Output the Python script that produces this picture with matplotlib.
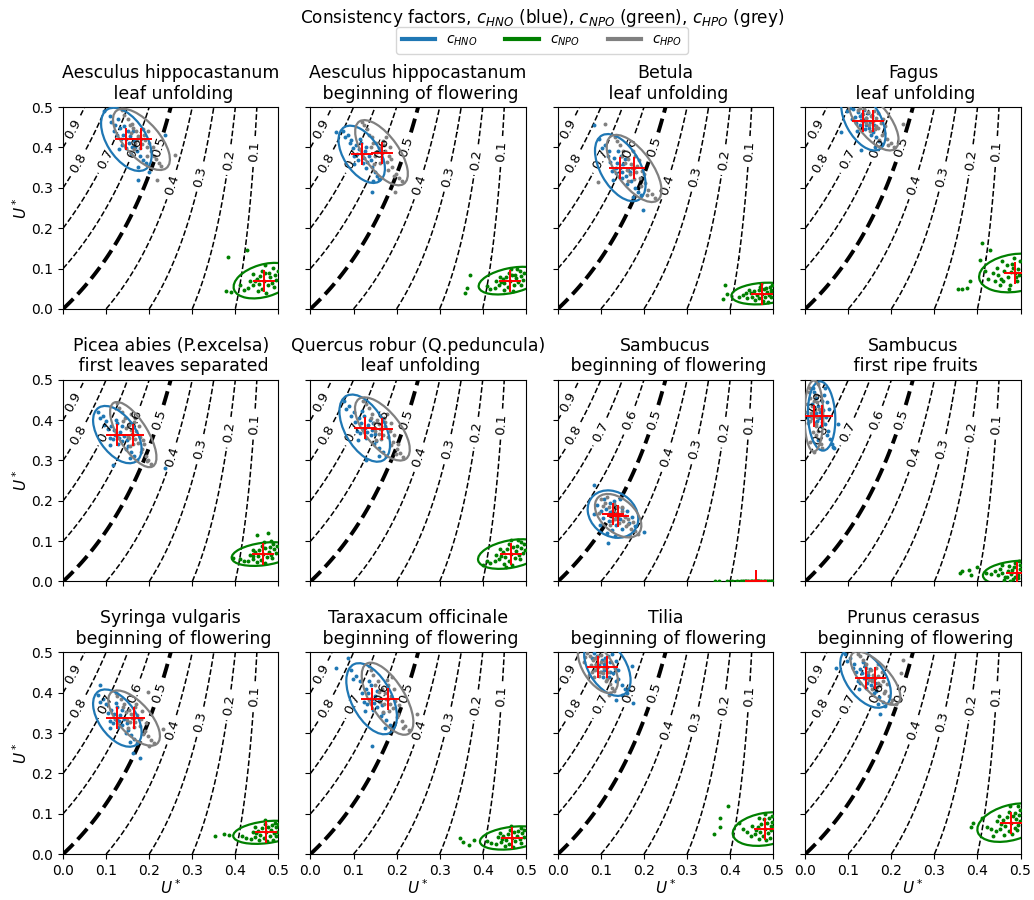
import numpy as np
import matplotlib
matplotlib.use("Agg")
import matplotlib.pyplot as plt
from matplotlib.patches import Ellipse
from matplotlib.lines import Line2D

# Panels (species, phenological phase)
species = ["Aesculus hippocastanum", "Aesculus hippocastanum", "Betula", "Fagus",
           "Picea abies (P.excelsa)", "Quercus robur (Q.peduncula)", "Sambucus", "Sambucus",
           "Syringa vulgaris", "Taraxacum officinale", "Tilia", "Prunus cerasus"]
phases = ["leaf unfolding", "beginning of flowering", "leaf unfolding", "leaf unfolding",
          "first leaves separated", "leaf unfolding", "beginning of flowering", "first ripe fruits",
          "beginning of flowering", "beginning of flowering", "beginning of flowering",
          "beginning of flowering"]

# posterior means (x, y) of each consistency factor cloud
hno_mean = [(0.147, 0.420), (0.119, 0.383), (0.145, 0.350), (0.135, 0.466), (0.126, 0.364), (0.126, 0.380),
            (0.128, 0.167), (0.038, 0.410), (0.126, 0.337), (0.142, 0.385), (0.115, 0.463), (0.140, 0.436)]
hpo_mean = [(0.182, 0.420), (0.165, 0.387), (0.177, 0.348), (0.158, 0.466), (0.163, 0.364), (0.167, 0.378),
            (0.140, 0.163), (0.020, 0.410), (0.165, 0.337), (0.179, 0.385), (0.093, 0.463), (0.163, 0.436)]
npo_mean = [(0.467, 0.070), (0.464, 0.070), (0.474, 0.038), (0.487, 0.089), (0.465, 0.068), (0.465, 0.068),
            (0.460, 0.000), (0.491, 0.021), (0.471, 0.054), (0.467, 0.040), (0.482, 0.062), (0.478, 0.078)]

# standard deviations (x, y) and correlation
hno_sd = [(0.024, 0.032), (0.022, 0.029), (0.024, 0.034), (0.021, 0.030), (0.023, 0.029), (0.024, 0.034),
          (0.024, 0.024), (0.013, 0.035), (0.023, 0.029), (0.024, 0.036), (0.022, 0.029), (0.024, 0.030)]
hpo_sd = [(0.027, 0.031), (0.025, 0.033), (0.026, 0.034), (0.024, 0.030), (0.022, 0.033), (0.026, 0.032),
          (0.022, 0.022), (0.009, 0.036), (0.0245, 0.028), (0.0245, 0.0365), (0.019, 0.026), (0.0237, 0.027)]
npo_sd = [(0.029, 0.018), (0.030, 0.014), (0.029, 0.011), (0.034, 0.0196), (0.030, 0.012), (0.031, 0.015),
          (0.028, 0.0006), (0.032, 0.0125), (0.031, 0.0117), (0.030, 0.0118), (0.031, 0.017), (0.032, 0.0195)]
hno_rho = [-0.5, -0.5, -0.5, -0.5, -0.5, -0.5, -0.2, -0.1, -0.5, -0.5, -0.45, -0.5]
hpo_rho = [-0.65, -0.65, -0.65, -0.65, -0.7, -0.65, -0.45, 0.0, -0.65, -0.65, -0.55, -0.7]
npo_rho = [0.35, 0.4, 0.2, 0.2, 0.3, 0.35, 0.0, 0.2, 0.3, 0.3, 0.25, 0.35]

# posterior samples
hno_pts = [
    [(0.147,0.420),(0.132,0.447),(0.160,0.402),(0.121,0.455),(0.171,0.392),(0.140,0.432),(0.155,0.428),(0.138,0.405),
     (0.165,0.415),(0.128,0.470),(0.178,0.378),(0.112,0.462),(0.150,0.440),(0.145,0.398),(0.186,0.370),(0.118,0.440),
     (0.158,0.385),(0.135,0.420),(0.125,0.432),(0.168,0.402),(0.108,0.478),(0.192,0.362),(0.142,0.452),(0.153,0.410),
     (0.130,0.395),(0.162,0.440),(0.174,0.352),(0.200,0.338),(0.095,0.490),(0.236,0.430),(0.174,0.320)],
    [(0.119,0.383),(0.105,0.405),(0.132,0.365),(0.095,0.418),(0.142,0.352),(0.112,0.395),(0.126,0.390),(0.110,0.370),
     (0.135,0.378),(0.088,0.430),(0.150,0.340),(0.080,0.425),(0.118,0.410),(0.122,0.362),(0.155,0.330),(0.098,0.398),
     (0.130,0.350),(0.108,0.385),(0.100,0.378),(0.140,0.370),(0.075,0.442),(0.160,0.322),(0.115,0.420),(0.124,0.375),
     (0.102,0.358),(0.128,0.402),(0.145,0.318),(0.142,0.290),(0.060,0.439),(0.092,0.410)],
    [(0.145,0.350),(0.130,0.375),(0.158,0.330),(0.118,0.390),(0.170,0.318),(0.138,0.362),(0.152,0.358),(0.136,0.336),
     (0.162,0.345),(0.110,0.405),(0.178,0.300),(0.102,0.398),(0.146,0.380),(0.148,0.325),(0.185,0.290),(0.122,0.365),
     (0.160,0.310),(0.135,0.350),(0.126,0.342),(0.168,0.338),(0.096,0.420),(0.192,0.282),(0.140,0.392),(0.150,0.340),
     (0.128,0.320),(0.155,0.372),(0.175,0.278),(0.198,0.245),(0.085,0.455),(0.116,0.378)],
    [(0.135,0.466),(0.122,0.488),(0.148,0.448),(0.112,0.495),(0.158,0.438),(0.128,0.478),(0.142,0.472),(0.126,0.455),
     (0.150,0.462),(0.105,0.498),(0.165,0.425),(0.098,0.490),(0.136,0.492),(0.138,0.445),(0.172,0.415),(0.115,0.475),
     (0.152,0.432),(0.130,0.468),(0.118,0.460),(0.160,0.455),(0.145,0.485),(0.178,0.408),(0.132,0.482),(0.140,0.455),
     (0.120,0.440),(0.155,0.478),(0.162,0.402),(0.129,0.393),(0.084,0.439),(0.108,0.470)],
    [(0.126,0.364),(0.112,0.385),(0.138,0.348),(0.100,0.398),(0.150,0.335),(0.118,0.375),(0.132,0.370),(0.116,0.352),
     (0.142,0.360),(0.092,0.410),(0.158,0.322),(0.085,0.405),(0.125,0.392),(0.128,0.340),(0.165,0.312),(0.104,0.378),
     (0.146,0.328),(0.120,0.362),(0.108,0.356),(0.148,0.350),(0.080,0.420),(0.172,0.302),(0.122,0.400),(0.130,0.355),
     (0.110,0.338),(0.136,0.385),(0.155,0.305),(0.116,0.288),(0.236,0.282),(0.095,0.388)],
    [(0.126,0.380),(0.112,0.405),(0.140,0.362),(0.100,0.420),(0.152,0.348),(0.118,0.392),(0.134,0.388),(0.116,0.368),
     (0.144,0.375),(0.090,0.435),(0.160,0.332),(0.082,0.428),(0.124,0.410),(0.130,0.355),(0.168,0.320),(0.104,0.395),
     (0.148,0.340),(0.122,0.378),(0.108,0.372),(0.150,0.365),(0.078,0.448),(0.175,0.310),(0.120,0.422),(0.132,0.370),
     (0.110,0.350),(0.138,0.400),(0.158,0.312),(0.128,0.300),(0.095,0.410),(0.145,0.392)],
    [(0.128,0.167),(0.112,0.180),(0.144,0.155),(0.100,0.175),(0.155,0.162),(0.120,0.195),(0.135,0.140),(0.105,0.158),
     (0.150,0.182),(0.092,0.190),(0.165,0.145),(0.118,0.150),(0.138,0.185),(0.125,0.128),(0.172,0.160),(0.098,0.140),
     (0.148,0.130),(0.130,0.200),(0.108,0.205),(0.160,0.175),(0.085,0.168),(0.178,0.138),(0.122,0.172),(0.140,0.168),
     (0.115,0.120),(0.145,0.205),(0.085,0.239),(0.116,0.095),(0.200,0.123),(0.132,0.112)],
    [(0.038,0.410),(0.030,0.435),(0.046,0.390),(0.024,0.455),(0.052,0.372),(0.034,0.420),(0.042,0.425),(0.028,0.398),
     (0.048,0.408),(0.020,0.470),(0.058,0.352),(0.016,0.440),(0.040,0.448),(0.036,0.385),(0.062,0.340),(0.026,0.418),
     (0.050,0.362),(0.032,0.405),(0.022,0.392),(0.054,0.428),(0.018,0.480),(0.066,0.330),(0.044,0.462),(0.040,0.395),
     (0.030,0.350),(0.050,0.445),(0.076,0.391),(0.064,0.333),(0.012,0.410),(0.045,0.480)],
    [(0.126,0.337),(0.112,0.358),(0.138,0.320),(0.100,0.372),(0.150,0.308),(0.118,0.348),(0.132,0.345),(0.116,0.325),
     (0.142,0.335),(0.092,0.385),(0.158,0.295),(0.085,0.378),(0.125,0.365),(0.128,0.315),(0.165,0.285),(0.104,0.350),
     (0.146,0.300),(0.120,0.335),(0.108,0.330),(0.148,0.325),(0.080,0.395),(0.172,0.275),(0.122,0.375),(0.130,0.330),
     (0.110,0.312),(0.136,0.358),(0.155,0.278),(0.085,0.420),(0.178,0.239),(0.163,0.251)],
    [(0.142,0.385),(0.128,0.410),(0.155,0.365),(0.116,0.428),(0.168,0.350),(0.134,0.398),(0.150,0.392),(0.132,0.372),
     (0.160,0.380),(0.106,0.442),(0.176,0.332),(0.098,0.435),(0.140,0.418),(0.146,0.358),(0.184,0.320),(0.120,0.400),
     (0.164,0.342),(0.138,0.385),(0.124,0.378),(0.166,0.370),(0.094,0.455),(0.190,0.310),(0.136,0.430),(0.148,0.375),
     (0.126,0.355),(0.154,0.405),(0.172,0.312),(0.088,0.486),(0.060,0.461),(0.142,0.267)],
    [(0.115,0.463),(0.102,0.482),(0.128,0.448),(0.092,0.492),(0.140,0.435),(0.108,0.470),(0.122,0.475),(0.106,0.455),
     (0.132,0.460),(0.085,0.498),(0.148,0.420),(0.080,0.485),(0.116,0.490),(0.118,0.440),(0.155,0.410),(0.096,0.468),
     (0.136,0.428),(0.112,0.462),(0.100,0.452),(0.140,0.455),(0.125,0.495),(0.160,0.400),(0.110,0.485),(0.120,0.452),
     (0.104,0.438),(0.134,0.478),(0.150,0.395),(0.172,0.467),(0.174,0.374),(0.136,0.383)],
    [(0.140,0.436),(0.126,0.458),(0.152,0.418),(0.114,0.472),(0.164,0.405),(0.132,0.448),(0.146,0.445),(0.128,0.425),
     (0.156,0.432),(0.104,0.485),(0.172,0.390),(0.096,0.478),(0.138,0.465),(0.142,0.412),(0.180,0.378),(0.118,0.450),
     (0.160,0.398),(0.136,0.436),(0.122,0.430),(0.162,0.425),(0.092,0.495),(0.186,0.368),(0.134,0.475),(0.144,0.425),
     (0.124,0.408),(0.150,0.458),(0.168,0.372),(0.072,0.461),(0.173,0.348),(0.110,0.460)],
]
hpo_pts = [
    [(0.182,0.420),(0.170,0.442),(0.195,0.400),(0.160,0.458),(0.205,0.390),(0.175,0.428),(0.190,0.418),(0.168,0.410),
     (0.200,0.412),(0.150,0.470),(0.215,0.372),(0.142,0.480),(0.185,0.445),(0.178,0.398),(0.222,0.362),(0.158,0.435),
     (0.196,0.380),(0.172,0.422),(0.162,0.448),(0.208,0.400),(0.138,0.492),(0.228,0.355),(0.188,0.432),(0.184,0.408),
     (0.165,0.395),(0.198,0.440),(0.212,0.380),(0.260,0.381),(0.217,0.319),(0.155,0.455)],
    [(0.165,0.387),(0.152,0.410),(0.178,0.365),(0.142,0.425),(0.190,0.352),(0.158,0.398),(0.172,0.392),(0.150,0.378),
     (0.182,0.380),(0.132,0.445),(0.198,0.335),(0.125,0.455),(0.168,0.415),(0.162,0.362),(0.205,0.325),(0.140,0.402),
     (0.180,0.345),(0.155,0.388),(0.145,0.412),(0.188,0.372),(0.120,0.462),(0.212,0.318),(0.170,0.405),(0.166,0.372),
     (0.148,0.360),(0.184,0.400),(0.195,0.330),(0.196,0.290),(0.135,0.430),(0.175,0.425)],
    [(0.177,0.348),(0.164,0.372),(0.190,0.325),(0.152,0.390),(0.202,0.312),(0.170,0.360),(0.184,0.355),(0.168,0.335),
     (0.195,0.342),(0.145,0.405),(0.210,0.295),(0.138,0.415),(0.180,0.378),(0.176,0.322),(0.218,0.285),(0.155,0.362),
     (0.192,0.305),(0.172,0.350),(0.160,0.345),(0.200,0.335),(0.132,0.425),(0.225,0.275),(0.174,0.392),(0.182,0.338),
     (0.162,0.318),(0.188,0.370),(0.206,0.282),(0.109,0.459),(0.093,0.315),(0.148,0.380)],
    [(0.158,0.466),(0.146,0.488),(0.170,0.448),(0.136,0.496),(0.182,0.436),(0.152,0.478),(0.165,0.472),(0.148,0.455),
     (0.175,0.460),(0.128,0.498),(0.190,0.422),(0.122,0.492),(0.160,0.490),(0.162,0.445),(0.198,0.412),(0.140,0.472),
     (0.178,0.430),(0.155,0.462),(0.142,0.460),(0.185,0.452),(0.168,0.485),(0.205,0.402),(0.156,0.480),(0.164,0.452),
     (0.150,0.440),(0.180,0.470),(0.192,0.405),(0.227,0.459),(0.134,0.482),(0.172,0.418)],
    [(0.163,0.364),(0.152,0.388),(0.174,0.342),(0.144,0.405),(0.184,0.328),(0.158,0.376),(0.170,0.372),(0.154,0.355),
     (0.178,0.358),(0.136,0.420),(0.192,0.312),(0.130,0.430),(0.165,0.395),(0.162,0.340),(0.198,0.302),(0.146,0.380),
     (0.180,0.322),(0.160,0.365),(0.150,0.360),(0.186,0.350),(0.125,0.442),(0.205,0.292),(0.168,0.405),(0.166,0.352),
     (0.156,0.335),(0.176,0.385),(0.194,0.298),(0.140,0.398),(0.188,0.340),(0.158,0.415)],
    [(0.167,0.378),(0.154,0.400),(0.180,0.358),(0.144,0.415),(0.192,0.345),(0.160,0.390),(0.174,0.385),(0.158,0.365),
     (0.184,0.372),(0.135,0.430),(0.200,0.328),(0.128,0.440),(0.170,0.405),(0.164,0.352),(0.208,0.318),(0.148,0.392),
     (0.188,0.338),(0.162,0.378),(0.150,0.372),(0.194,0.362),(0.122,0.448),(0.215,0.308),(0.172,0.395),(0.168,0.362),
     (0.152,0.350),(0.186,0.392),(0.198,0.315),(0.140,0.405),(0.178,0.415),(0.204,0.340)],
    [(0.140,0.163),(0.128,0.178),(0.152,0.150),(0.118,0.185),(0.162,0.142),(0.134,0.170),(0.146,0.168),(0.132,0.155),
     (0.155,0.160),(0.110,0.195),(0.170,0.130),(0.105,0.188),(0.138,0.185),(0.142,0.145),(0.178,0.125),(0.122,0.165),
     (0.158,0.138),(0.136,0.160),(0.126,0.150),(0.164,0.155),(0.100,0.205),(0.185,0.118),(0.130,0.192),(0.148,0.175),
     (0.120,0.140),(0.150,0.185),(0.168,0.112),(0.095,0.170),(0.175,0.148),(0.115,0.210)],
    [(0.020,0.410),(0.015,0.435),(0.025,0.390),(0.010,0.455),(0.030,0.372),(0.018,0.420),(0.022,0.425),(0.012,0.398),
     (0.028,0.408),(0.008,0.470),(0.034,0.352),(0.005,0.440),(0.020,0.448),(0.024,0.385),(0.036,0.340),(0.014,0.418),
     (0.026,0.362),(0.016,0.405),(0.006,0.392),(0.032,0.428),(0.012,0.480),(0.038,0.330),(0.022,0.462),(0.018,0.370),
     (0.028,0.445),(0.003,0.420),(0.010,0.345),(0.030,0.490),(0.020,0.320),(0.026,0.495)],
    [(0.165,0.337),(0.152,0.358),(0.178,0.318),(0.142,0.372),(0.190,0.305),(0.158,0.348),(0.172,0.345),(0.156,0.328),
     (0.182,0.335),(0.134,0.385),(0.198,0.292),(0.126,0.392),(0.166,0.365),(0.164,0.315),(0.205,0.282),(0.146,0.352),
     (0.186,0.298),(0.160,0.338),(0.148,0.332),(0.192,0.325),(0.122,0.400),(0.212,0.275),(0.170,0.372),(0.168,0.328),
     (0.150,0.312),(0.184,0.355),(0.200,0.268),(0.198,0.402),(0.233,0.309),(0.140,0.365)],
    [(0.179,0.385),(0.166,0.410),(0.192,0.362),(0.156,0.430),(0.204,0.348),(0.172,0.398),(0.186,0.392),(0.170,0.372),
     (0.196,0.380),(0.146,0.445),(0.212,0.330),(0.140,0.455),(0.180,0.420),(0.182,0.355),(0.220,0.318),(0.160,0.402),
     (0.200,0.340),(0.176,0.385),(0.162,0.378),(0.206,0.370),(0.135,0.465),(0.228,0.308),(0.178,0.432),(0.184,0.372),
     (0.168,0.352),(0.194,0.408),(0.214,0.312),(0.248,0.346),(0.150,0.418),(0.190,0.440)],
    [(0.093,0.463),(0.082,0.482),(0.104,0.448),(0.074,0.492),(0.114,0.435),(0.088,0.470),(0.100,0.475),(0.086,0.455),
     (0.108,0.460),(0.068,0.498),(0.120,0.422),(0.064,0.488),(0.094,0.490),(0.096,0.442),(0.126,0.412),(0.078,0.468),
     (0.112,0.428),(0.090,0.462),(0.080,0.452),(0.116,0.452),(0.100,0.494),(0.130,0.405),(0.086,0.485),(0.098,0.452),
     (0.084,0.438),(0.110,0.478),(0.120,0.400),(0.072,0.445),(0.060,0.475),(0.118,0.395)],
    [(0.163,0.436),(0.152,0.455),(0.174,0.418),(0.142,0.470),(0.186,0.405),(0.158,0.445),(0.170,0.442),(0.154,0.428),
     (0.180,0.430),(0.134,0.482),(0.194,0.392),(0.128,0.490),(0.164,0.462),(0.166,0.415),(0.202,0.382),(0.146,0.450),
     (0.184,0.398),(0.160,0.436),(0.148,0.432),(0.190,0.422),(0.122,0.496),(0.210,0.372),(0.168,0.470),(0.168,0.425),
     (0.156,0.410),(0.178,0.452),(0.198,0.375),(0.227,0.481),(0.223,0.449),(0.140,0.460)],
]
npo_pts = [
    [(0.467,0.070),(0.480,0.078),(0.455,0.062),(0.492,0.085),(0.440,0.058),(0.470,0.090),(0.462,0.050),(0.485,0.065),
     (0.450,0.075),(0.498,0.095),(0.430,0.052),(0.475,0.058),(0.458,0.082),(0.445,0.068),(0.488,0.102),(0.420,0.048),
     (0.472,0.040),(0.495,0.072),(0.463,0.095),(0.478,0.088),(0.435,0.070),(0.452,0.044),(0.490,0.055),(0.410,0.058),
     (0.384,0.128),(0.426,0.146),(0.378,0.045),(0.389,0.041),(0.468,0.108),(0.442,0.086)],
    [(0.464,0.070),(0.478,0.076),(0.450,0.064),(0.490,0.082),(0.438,0.058),(0.468,0.085),(0.458,0.055),(0.482,0.066),
     (0.446,0.074),(0.496,0.090),(0.428,0.052),(0.472,0.060),(0.455,0.080),(0.442,0.066),(0.486,0.095),(0.418,0.050),
     (0.470,0.045),(0.494,0.072),(0.460,0.090),(0.476,0.084),(0.432,0.068),(0.450,0.048),(0.488,0.058),(0.410,0.056),
     (0.370,0.085),(0.363,0.052),(0.359,0.040),(0.466,0.100),(0.440,0.080),(0.480,0.098)],
    [(0.474,0.038),(0.486,0.042),(0.462,0.034),(0.495,0.048),(0.450,0.030),(0.478,0.050),(0.468,0.026),(0.490,0.035),
     (0.456,0.044),(0.498,0.058),(0.440,0.028),(0.482,0.030),(0.466,0.046),(0.448,0.040),(0.492,0.055),(0.430,0.034),
     (0.476,0.020),(0.496,0.040),(0.470,0.055),(0.484,0.052),(0.438,0.040),(0.458,0.022),(0.494,0.030),(0.420,0.030),
     (0.388,0.060),(0.392,0.038),(0.384,0.025),(0.472,0.062),(0.445,0.048),(0.488,0.018)],
    [(0.487,0.089),(0.470,0.080),(0.495,0.100),(0.455,0.075),(0.480,0.110),(0.462,0.095),(0.492,0.070),(0.448,0.085),
     (0.475,0.060),(0.498,0.118),(0.440,0.070),(0.485,0.125),(0.468,0.108),(0.452,0.058),(0.490,0.078),(0.435,0.090),
     (0.478,0.092),(0.460,0.068),(0.496,0.085),(0.445,0.102),(0.425,0.075),(0.472,0.050),(0.482,0.102),(0.418,0.095),
     (0.355,0.050),(0.365,0.050),(0.375,0.052),(0.382,0.070),(0.410,0.163),(0.430,0.147),(0.405,0.120),(0.458,0.118)],
    [(0.465,0.068),(0.478,0.074),(0.452,0.062),(0.490,0.080),(0.440,0.056),(0.470,0.082),(0.460,0.054),(0.484,0.066),
     (0.446,0.072),(0.496,0.088),(0.430,0.052),(0.474,0.060),(0.456,0.078),(0.442,0.064),(0.488,0.092),(0.420,0.050),
     (0.468,0.046),(0.494,0.070),(0.462,0.088),(0.480,0.086),(0.434,0.066),(0.450,0.048),(0.486,0.058),(0.412,0.056),
     (0.477,0.119),(0.450,0.115),(0.395,0.058),(0.466,0.098),(0.440,0.078),(0.482,0.100)],
    [(0.465,0.068),(0.478,0.075),(0.452,0.060),(0.490,0.082),(0.438,0.055),(0.470,0.085),(0.460,0.050),(0.484,0.065),
     (0.446,0.072),(0.496,0.092),(0.428,0.050),(0.474,0.058),(0.456,0.080),(0.442,0.064),(0.488,0.098),(0.418,0.046),
     (0.468,0.042),(0.494,0.070),(0.462,0.092),(0.480,0.088),(0.432,0.066),(0.450,0.044),(0.486,0.056),(0.410,0.052),
     (0.466,0.104),(0.440,0.080),(0.482,0.102),(0.400,0.040),(0.455,0.035),(0.498,0.078)],
    [(0.460,0.001),(0.472,0.001),(0.448,0.000),(0.485,0.002),(0.435,0.001),(0.465,0.002),(0.455,0.000),(0.478,0.001),
     (0.442,0.001),(0.495,0.002),(0.425,0.000),(0.468,0.001),(0.452,0.002),(0.438,0.001),(0.490,0.001),(0.415,0.001),
     (0.462,0.000),(0.482,0.002),(0.405,0.001),(0.392,0.002),(0.375,0.001),(0.365,0.002),(0.430,0.002),(0.498,0.001)],
    [(0.491,0.021),(0.478,0.018),(0.498,0.030),(0.465,0.012),(0.485,0.035),(0.470,0.026),(0.495,0.008),(0.458,0.022),
     (0.482,0.005),(0.499,0.042),(0.448,0.015),(0.488,0.045),(0.474,0.038),(0.462,0.004),(0.494,0.016),(0.440,0.025),
     (0.480,0.028),(0.468,0.010),(0.497,0.052),(0.452,0.032),(0.432,0.018),(0.476,0.002),(0.486,0.010),(0.420,0.022),
     (0.360,0.020),(0.364,0.026),(0.380,0.028),(0.384,0.016),(0.400,0.035),(0.458,0.040)],
    [(0.471,0.054),(0.484,0.060),(0.458,0.048),(0.495,0.066),(0.446,0.043),(0.476,0.068),(0.466,0.040),(0.490,0.052),
     (0.452,0.058),(0.498,0.074),(0.436,0.038),(0.480,0.046),(0.462,0.064),(0.448,0.052),(0.492,0.078),(0.425,0.040),
     (0.474,0.032),(0.496,0.056),(0.468,0.075),(0.486,0.072),(0.440,0.055),(0.456,0.034),(0.494,0.044),(0.415,0.045),
     (0.353,0.045),(0.373,0.051),(0.385,0.048),(0.470,0.084),(0.445,0.066),(0.488,0.036)],
    [(0.467,0.040),(0.480,0.046),(0.454,0.034),(0.492,0.052),(0.442,0.030),(0.472,0.054),(0.462,0.026),(0.486,0.038),
     (0.448,0.044),(0.497,0.060),(0.432,0.026),(0.476,0.032),(0.458,0.050),(0.444,0.038),(0.490,0.064),(0.420,0.028),
     (0.470,0.018),(0.495,0.042),(0.464,0.060),(0.482,0.058),(0.436,0.042),(0.452,0.020),(0.488,0.028),(0.410,0.032),
     (0.347,0.040),(0.355,0.029),(0.367,0.022),(0.380,0.035),(0.466,0.070),(0.440,0.052)],
    [(0.482,0.062),(0.494,0.070),(0.470,0.055),(0.498,0.080),(0.458,0.050),(0.486,0.078),(0.476,0.045),(0.496,0.060),
     (0.464,0.068),(0.490,0.090),(0.448,0.045),(0.488,0.052),(0.472,0.075),(0.460,0.060),(0.497,0.095),(0.440,0.055),
     (0.484,0.035),(0.499,0.068),(0.478,0.088),(0.492,0.040),(0.452,0.070),(0.468,0.038),(0.480,0.100),(0.430,0.062),
     (0.363,0.051),(0.376,0.066),(0.394,0.120),(0.376,0.090),(0.420,0.078),(0.466,0.090)],
    [(0.478,0.078),(0.490,0.086),(0.465,0.070),(0.497,0.098),(0.452,0.062),(0.482,0.095),(0.472,0.058),(0.494,0.072),
     (0.460,0.085),(0.499,0.110),(0.442,0.058),(0.486,0.064),(0.468,0.092),(0.455,0.075),(0.495,0.118),(0.432,0.062),
     (0.480,0.050),(0.498,0.082),(0.474,0.105),(0.488,0.102),(0.446,0.082),(0.462,0.048),(0.492,0.060),(0.422,0.068),
     (0.385,0.068),(0.389,0.077),(0.410,0.090),(0.476,0.120),(0.450,0.095),(0.436,0.045)],
]

levels = [0.1, 0.2, 0.3, 0.4, 0.5, 0.6, 0.7, 0.8, 0.9]

BLUE, GREEN, GREY = "#1f77b4", "green", "grey"


def conf_ellipse(ax, mean, sd, rho, color):
    # 95% confidence ellipse from covariance
    sx, sy = sd
    cov = np.array([[sx**2, rho*sx*sy], [rho*sx*sy, sy**2]])
    vals, vecs = np.linalg.eigh(cov)
    k = np.sqrt(5.991)
    angle = np.degrees(np.arctan2(vecs[1, 1], vecs[0, 1]))
    e = Ellipse(mean, 2*k*np.sqrt(vals[1]), 2*k*np.sqrt(vals[0]), angle=angle,
                fill=False, ec=color, lw=1.6, zorder=4)
    ax.add_patch(e)


# consistency field c = (0.5 + U_y) * (1 - 2 U_x)
gx = np.linspace(0, 0.5, 201)
X, Y = np.meshgrid(gx, gx)
C = (0.5 + Y) * (1 - 2 * X)
label_pos = [(0.444, 0.39), (0.384, 0.37), (0.318, 0.328), (0.252, 0.308), (0.224, 0.40),
             (0.165, 0.40), (0.097, 0.372), (0.035, 0.362), (0.025, 0.445)]

fig, axes = plt.subplots(3, 4, figsize=(10.34, 9.0), sharex=True, sharey=True)
fig.subplots_adjust(left=0.061, right=0.987, top=0.881, bottom=0.051, wspace=0.149, hspace=0.351)

for i, ax in enumerate(axes.flat):
    lws = [2.8 if l == 0.5 else 1.1 for l in levels]
    cs = ax.contour(X, Y, C, levels=levels, colors="k", linestyles="dashed", linewidths=lws)
    ax.clabel(cs, inline=True, fmt="%.1f", fontsize=9.5, manual=label_pos)

    for pts, col in [(hno_pts[i], BLUE), (npo_pts[i], GREEN), (hpo_pts[i], GREY)]:
        p = np.array(pts)
        ax.scatter(p[:, 0], p[:, 1], s=8, color=col, linewidths=0, zorder=3)
    conf_ellipse(ax, hno_mean[i], hno_sd[i], hno_rho[i], BLUE)
    conf_ellipse(ax, npo_mean[i], npo_sd[i], npo_rho[i], GREEN)
    conf_ellipse(ax, hpo_mean[i], hpo_sd[i], hpo_rho[i], GREY)
    for m in (hno_mean[i], npo_mean[i], hpo_mean[i]):
        ax.plot(m[0], m[1], "+", color="red", ms=16, mew=1.4, zorder=5)

    ax.set_xlim(0, 0.5)
    ax.set_ylim(0, 0.5)
    ax.set_xticks([0, 0.1, 0.2, 0.3, 0.4, 0.5])
    ax.set_yticks([0, 0.1, 0.2, 0.3, 0.4, 0.5])
    ax.tick_params(labelsize=10)
    ax.set_title(species[i] + "\n " + phases[i], fontsize=12.5)
    if i % 4 == 0:
        ax.set_ylabel("$U^*$", fontsize=11, labelpad=1)
    if i >= 8:
        ax.set_xlabel("$U^*$", fontsize=11, labelpad=0)

xc = (0.061 + 0.987) / 2
fig.suptitle("Consistency factors, $c_{HNO}$ (blue), $c_{NPO}$ (green), $c_{HPO}$ (grey)",
             fontsize=12.2, x=xc, y=0.992, va="top")
handles = [Line2D([], [], color=BLUE, lw=3), Line2D([], [], color=GREEN, lw=3),
           Line2D([], [], color=GREY, lw=3)]
fig.legend(handles, ["$c_{HNO}$", "$c_{NPO}$", "$c_{HPO}$"], loc="upper center",
           bbox_to_anchor=(xc, 0.97), ncol=3, fontsize=10, handlelength=2.4, borderaxespad=0)

fig.savefig("out.png", dpi=100)
